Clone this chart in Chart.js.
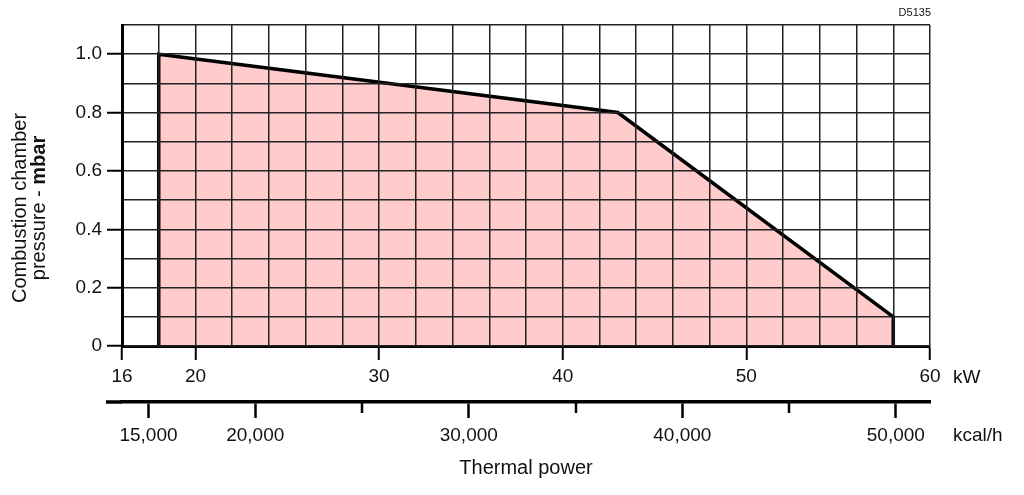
<!DOCTYPE html>
<html>
<head>
<meta charset="utf-8">
<script src="https://cdn.jsdelivr.net/npm/chart.js@4.4.1/dist/chart.umd.min.js"></script>
<style>
  html, body { margin: 0; padding: 0; background: #fff; }
  #wrap { width: 1024px; height: 495px; }
</style>
</head>
<body>
<div id="wrap"><canvas id="thermal-chart"></canvas></div>
<script>
// working field of the burner
const powerKw = [18, 18, 43, 58, 58];
const pressureMbar = [0, 1.0, 0.8, 0.1, 0];

const kwLabels = [16, 20, 30, 40, 50, 60];
const pressureLabels = [0, 0.2, 0.4, 0.6, 0.8, 1.0];
const kcalTicks = [15000, 20000, 25000, 30000, 35000, 40000, 45000, 50000];
const kcalLabels = [15000, 20000, 30000, 40000, 50000];
const KCAL_PER_KW = 860;

const FONT = '"Liberation Sans", Arial, Helvetica, sans-serif';
const INK = '#111';

const isKwLabel = v => kwLabels.includes(Math.round(v));
const isPressureLabel = v => pressureLabels.some(p => Math.abs(p - v) < 1e-6);

const extras = {
  id: 'extras',
  afterDraw(chart) {
    const { ctx, scales } = chart;
    const x = scales.x, x2 = scales.x2;
    ctx.save();

    // the kcal/h line runs a bit further left than the plot
    ctx.strokeStyle = '#000';
    ctx.lineWidth = 3.5;
    ctx.beginPath();
    ctx.moveTo(x2.left - 16, x2.top);
    ctx.lineTo(x2.left, x2.top);
    ctx.stroke();

    // short ticks for the unlabelled kcal values
    ctx.lineWidth = 2.5;
    kcalTicks.filter(v => !kcalLabels.includes(v)).forEach(v => {
      const px = Math.round(x2.getPixelForValue(v));
      ctx.beginPath();
      ctx.moveTo(px, x2.top);
      ctx.lineTo(px, x2.top + 11);
      ctx.stroke();
    });

    // units
    ctx.fillStyle = INK;
    ctx.font = '19px ' + FONT;
    ctx.textAlign = 'left';
    ctx.textBaseline = 'middle';
    ctx.fillText('kW', x.right + 23, x.top + 32);
    ctx.fillText('kcal/h', x2.right + 23, x2.top + 34);

    // drawing code
    ctx.font = '11px ' + FONT;
    ctx.textAlign = 'right';
    ctx.fillText('D5135', x.right + 1, 13);

    // y title, two lines with "mbar" in bold
    ctx.translate(0, 208);
    ctx.rotate(-Math.PI / 2);
    ctx.font = '20px ' + FONT;
    ctx.textAlign = 'center';
    ctx.fillText('Combustion chamber', 0, 20);
    ctx.textAlign = 'left';
    const partA = 'pressure - ';
    const wA = ctx.measureText(partA).width;
    ctx.font = 'bold 20px ' + FONT;
    const wB = ctx.measureText('mbar').width;
    const start = -(wA + wB) / 2;
    ctx.font = '20px ' + FONT;
    ctx.fillText(partA, start, 39);
    ctx.font = 'bold 20px ' + FONT;
    ctx.fillText('mbar', start + wA, 39);

    ctx.restore();
  }
};

new Chart(document.getElementById('thermal-chart'), {
  type: 'line',
  data: {
    datasets: [{
      data: powerKw.map((v, i) => ({ x: v, y: pressureMbar[i] })),
      borderColor: '#000',
      borderWidth: 3.5,
      backgroundColor: '#ffcbcb',
      fill: 'origin',
      pointRadius: 0,
      tension: 0,
      xAxisID: 'x',
      yAxisID: 'y'
    }]
  },
  options: {
    responsive: true,
    maintainAspectRatio: false,
    animation: false,
    layout: { padding: { top: 25, right: 94, left: 0, bottom: 0 } },
    plugins: {
      legend: { display: false },
      tooltip: { enabled: false }
    },
    scales: {
      x: {
        type: 'linear',
        position: 'bottom',
        min: 16,
        max: 60,
        afterFit: s => { s.height = 56; },
        ticks: {
          stepSize: 2,
          autoSkip: false,
          maxRotation: 0,
          padding: 5,
          color: INK,
          font: { family: FONT, size: 19 },
          callback: v => isKwLabel(v) ? String(v) : ''
        },
        grid: {
          z: 1,
          color: '#222',
          lineWidth: 1.5,
          tickLength: 14,
          tickWidth: 2,
          tickColor: ctx => isKwLabel(ctx.tick.value) ? '#000' : 'rgba(0,0,0,0)'
        },
        border: { z: 1, color: '#000', width: 3 }
      },
      x2: {
        type: 'linear',
        position: 'bottom',
        min: 16 * KCAL_PER_KW,
        max: 60 * KCAL_PER_KW,
        afterFit: s => { s.height = 93; },
        afterBuildTicks: s => { s.ticks = kcalTicks.map(v => ({ value: v })); },
        ticks: {
          autoSkip: false,
          maxRotation: 0,
          padding: 6,
          color: INK,
          font: { family: FONT, size: 19 },
          callback: v => kcalLabels.includes(v) ? v.toLocaleString('en-US') : ''
        },
        grid: {
          drawOnChartArea: false,
          tickLength: 16,
          tickWidth: 2.5,
          tickColor: ctx => kcalLabels.includes(ctx.tick.value) ? '#000' : 'rgba(0,0,0,0)'
        },
        border: { color: '#000', width: 3.5 },
        title: {
          display: true,
          text: 'Thermal power',
          color: INK,
          font: { family: FONT, size: 20 },
          padding: { top: 0, bottom: 15 }
        }
      },
      y: {
        min: 0,
        max: 1.1,
        afterFit: s => { s.width = 122; },
        ticks: {
          stepSize: 0.1,
          autoSkip: false,
          padding: 5,
          color: INK,
          font: { family: FONT, size: 19 },
          callback: v => {
            if (!isPressureLabel(v)) return '';
            return v < 0.05 ? '0' : v.toFixed(1);
          }
        },
        grid: {
          z: 1,
          color: '#222',
          lineWidth: 1.5,
          tickLength: 15,
          tickWidth: 2,
          tickColor: ctx => isPressureLabel(ctx.tick.value) ? '#000' : 'rgba(0,0,0,0)'
        },
        border: { z: 1, color: '#000', width: 3 }
      }
    }
  },
  plugins: [extras]
});
</script>
</body>
</html>
